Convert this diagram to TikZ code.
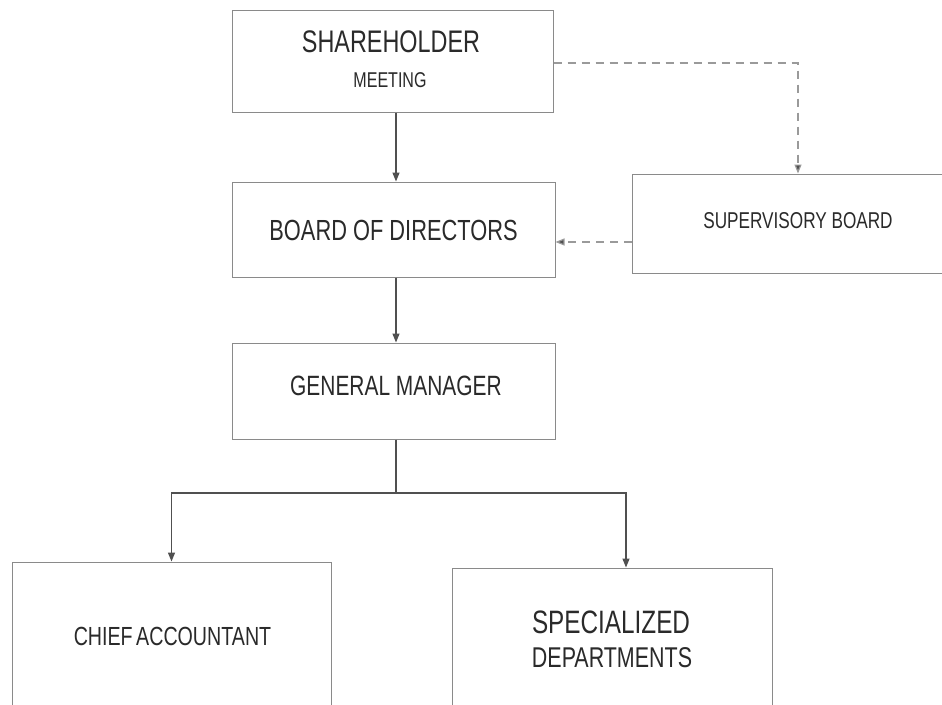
\documentclass[tikz,border=0pt]{standalone}
\usepackage{fontspec}
\setmainfont{Liberation Sans}[FakeStretch=0.75]
\usetikzlibrary{arrows.meta}
\definecolor{txt}{HTML}{2A2A2A}
\definecolor{edge}{HTML}{8A8A8A}
\definecolor{conn}{HTML}{505050}
\definecolor{dashc}{HTML}{9A9A9A}
\tikzset{
  box/.style={draw=edge, line width=1pt, rectangle, inner sep=0pt},
  lab/.style={inner sep=0pt, anchor=base, text=txt},
  arr/.style={draw=conn, line width=1.3pt, -{Triangle[length=9pt,width=7pt]}},
  plainline/.style={draw=conn, line width=1.3pt},
  dashline/.style={draw=dashc, line width=1.2pt, dash pattern=on 8pt off 6pt, -{Triangle[length=9pt,width=7pt,fill=conn]}}
}
\newcommand{\fs}[1]{\fontsize{#1}{#1}\selectfont}
\begin{document}
\begin{tikzpicture}[x=1pt,y=-1pt]
\useasboundingbox (0,0) rectangle (942,704);
\clip (0,0) rectangle (942,704);
\fill[white] (0,0) rectangle (942,704);
% boxes
\node[box, minimum width=321pt, minimum height=102pt] (sh) at (392.5,61) {};
\node[box, minimum width=323pt, minimum height=95pt] (bd) at (393.5,229.5) {};
\node[box, minimum width=323pt, minimum height=96pt] (gm) at (393.5,391) {};
\node[box, minimum width=332pt, minimum height=99pt] (sv) at (798,223.5) {};
\node[box, minimum width=319pt, minimum height=160pt] (ca) at (171.5,642) {};
\node[box, minimum width=320pt, minimum height=156pt] (sd) at (612,646) {};
% labels
\node[lab, font=\fs{31.2}] (shl1) at (391,52) {SHAREHOLDER};
\node[lab, font=\fs{21.4}] (shl2) at (390,87) {MEETING};
\node[lab, font=\fs{29.1}] (bdl) at (393.5,240) {BOARD OF DIRECTORS};
\node[lab, font=\fs{27.9}] (gml) at (396,395) {GENERAL MANAGER};
\node[lab, font=\fs{22.9}] (svl) at (798,228) {SUPERVISORY BOARD};
\node[lab, font=\fs{26.2}] (cal) at (172.5,645) {CHIEF\hspace{-2pt} ACCOUNTANT};
\node[lab, font=\fs{32.4}] (sdl1) at (611,633) {SPECIALIZED};
\node[lab, font=\fs{28.6}] (sdl2) at (612,667) {DEPARTMENTS};
% helper coordinates
\coordinate (spine) at (396,0);
\coordinate (bus) at (396,493);
\coordinate (sdx) at (626,0);
\coordinate (dy) at (0,242);
% connectors
\draw[arr] (spine |- sh.south) -- (spine |- bd.north);
\draw[arr] (spine |- bd.south) -- (spine |- gm.north);
\draw[plainline] (spine |- gm.south) -- (bus);
\draw[arr] (bus) -| (ca.north);
\draw[arr] (bus) -| (sdx |- sd.north);
\draw[dashline] (sh.east |- 0,63) -| (sv.north);
\draw[dashline] (sv.west |- dy) -- (bd.east |- dy);
\end{tikzpicture}
\end{document}
